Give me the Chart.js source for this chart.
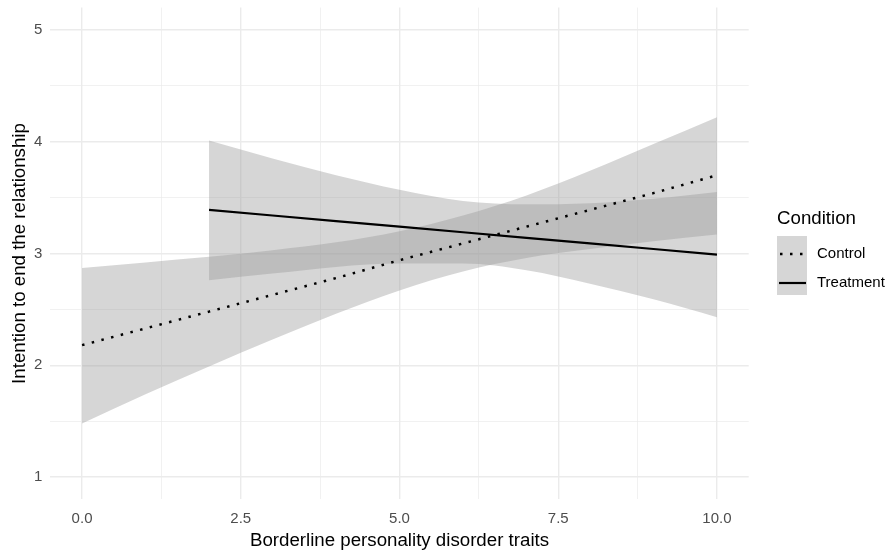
<!DOCTYPE html>
<html>
<head>
<meta charset="utf-8">
<script src="https://cdn.jsdelivr.net/npm/chart.js@4.4.1/dist/chart.umd.min.js"></script>
<style>
  html, body { margin: 0; padding: 0; background: #fff; }
</style>
</head>
<body>
<canvas id="myChart" width="894" height="552"></canvas>
<script>
// Valores
const controlX = [0, 1, 2, 3, 4, 5, 6, 7, 8, 9, 10];
const controlFit = [2.18, 2.33, 2.48, 2.63, 2.78, 2.94, 3.09, 3.24, 3.39, 3.54, 3.70];
const controlUpper = [2.87, 2.92, 2.97, 3.03, 3.10, 3.20, 3.34, 3.52, 3.74, 3.98, 4.22];
const controlLower = [1.48, 1.74, 1.99, 2.23, 2.46, 2.67, 2.84, 2.96, 3.04, 3.11, 3.17];

const treatmentX = [2, 3, 4, 5, 6, 7, 8, 9, 10];
const treatmentFit = [3.39, 3.34, 3.29, 3.24, 3.19, 3.14, 3.09, 3.04, 2.99];
const treatmentUpper = [4.01, 3.85, 3.70, 3.57, 3.47, 3.44, 3.45, 3.49, 3.55];
const treatmentLower = [2.76, 2.82, 2.88, 2.91, 2.91, 2.85, 2.73, 2.59, 2.43];

const xGrid = [0, 1.25, 2.5, 3.75, 5, 6.25, 7.5, 8.75, 10];
const xLabels = [0, 2.5, 5, 7.5, 10];
const yGrid = [1, 1.5, 2, 2.5, 3, 3.5, 4, 4.5, 5];
const yLabels = [1, 2, 3, 4, 5];

const seriesNames = ["Control", "Treatment"];
const legendTitle = "Condition";

const FONT = '"Liberation Sans", Arial, sans-serif';
const bandColor = "rgba(153, 153, 153, 0.4)";

function pts(xs, ys) {
  return xs.map((x, i) => ({ x: x, y: ys[i] }));
}

function band(xs, ys, fill) {
  return {
    data: pts(xs, ys),
    borderWidth: 0,
    pointRadius: 0,
    backgroundColor: bandColor,
    fill: fill,
    cubicInterpolationMode: "monotone",
  };
}

// zera o espaço extra que o Chart.js reserva para os rótulos das pontas
function noEdgePadding(scale) {
  scale.paddingTop = 0;
  scale.paddingBottom = 0;
  scale.paddingLeft = 0;
  scale.paddingRight = 0;
}

// Legenda desenhada à mão (estilo ggplot)
const legendPlugin = {
  id: "conditionLegend",
  afterDraw(chart) {
    const ctx = chart.ctx;
    ctx.save();
    ctx.fillStyle = "#000";
    ctx.textBaseline = "middle";
    ctx.font = "18.7px " + FONT;
    ctx.fillText(legendTitle, 777, 219);

    ctx.fillStyle = "#d6d6d6";
    ctx.fillRect(777, 236, 30, 59);

    ctx.strokeStyle = "#000";
    ctx.lineWidth = 2.5;
    ctx.setLineDash([2.5, 7.5]);
    ctx.beginPath();
    ctx.moveTo(780, 254);
    ctx.lineTo(806, 254);
    ctx.stroke();
    ctx.setLineDash([]);
    ctx.lineWidth = 2.2;
    ctx.beginPath();
    ctx.moveTo(779, 283);
    ctx.lineTo(806, 283);
    ctx.stroke();

    ctx.fillStyle = "#000";
    ctx.font = "15px " + FONT;
    ctx.fillText(seriesNames[0], 817, 254);
    ctx.fillText(seriesNames[1], 817, 283);
    ctx.restore();
  },
};

const config = {
  type: "line",
  data: {
    datasets: [
      {
        label: seriesNames[0],
        data: pts(controlX, controlFit),
        borderColor: "#000",
        borderWidth: 2.5,
        borderDash: [2.5, 7.5],
        pointRadius: 0,
        fill: false,
      },
      {
        label: seriesNames[1],
        data: pts(treatmentX, treatmentFit),
        borderColor: "#000",
        borderWidth: 2.2,
        pointRadius: 0,
        fill: false,
      },
      band(controlX, controlUpper, "+1"),
      band(controlX, controlLower, false),
      band(treatmentX, treatmentUpper, "+1"),
      band(treatmentX, treatmentLower, false),
    ],
  },
  options: {
    responsive: false,
    animation: false,
    layout: { padding: { top: 7.6, right: 145.3, left: 0, bottom: 0 } },
    plugins: {
      legend: { display: false },
      tooltip: { enabled: false },
      filler: { drawTime: "beforeDatasetsDraw" },
    },
    scales: {
      x: {
        type: "linear",
        min: -0.5,
        max: 10.5,
        afterBuildTicks: (scale) => {
          scale.ticks = xGrid.map((v) => ({ value: v }));
        },
        afterFit: (scale) => {
          scale.height = 52.6;
          noEdgePadding(scale);
        },
        border: { display: false },
        grid: {
          drawTicks: false,
          color: "#ebebeb",
          lineWidth: (c) => (xLabels.includes(c.tick.value) ? 1.4 : 0.7),
        },
        ticks: {
          padding: 10,
          color: "#4d4d4d",
          font: { family: FONT, size: 15 },
          maxRotation: 0,
          autoSkip: false,
          callback: (v) => (xLabels.includes(v) ? v.toFixed(1) : ""),
        },
        title: {
          display: true,
          text: "Borderline personality disorder traits",
          color: "#000",
          font: { family: FONT, size: 18.7 },
          padding: { top: 0, bottom: 0 },
        },
      },
      y: {
        type: "linear",
        min: 0.8,
        max: 5.2,
        afterBuildTicks: (scale) => {
          scale.ticks = yGrid.map((v) => ({ value: v }));
        },
        afterFit: (scale) => {
          scale.width = 50.3;
          noEdgePadding(scale);
        },
        border: { display: false },
        grid: {
          drawTicks: false,
          color: "#ebebeb",
          lineWidth: (c) => (yLabels.includes(c.tick.value) ? 1.4 : 0.7),
        },
        ticks: {
          padding: 8,
          color: "#4d4d4d",
          font: { family: FONT, size: 15 },
          autoSkip: false,
          callback: (v) => (yLabels.includes(v) ? String(v) : ""),
        },
        title: {
          display: true,
          text: "Intention to end the relationship",
          color: "#000",
          font: { family: FONT, size: 18.7 },
          padding: { top: 9, bottom: 0 },
        },
      },
    },
  },
  plugins: [legendPlugin],
};

window.onload = function () {
  const ctx = document.getElementById("myChart").getContext("2d");
  const myChart = new Chart(ctx, config);
};
</script>
</body>
</html>
